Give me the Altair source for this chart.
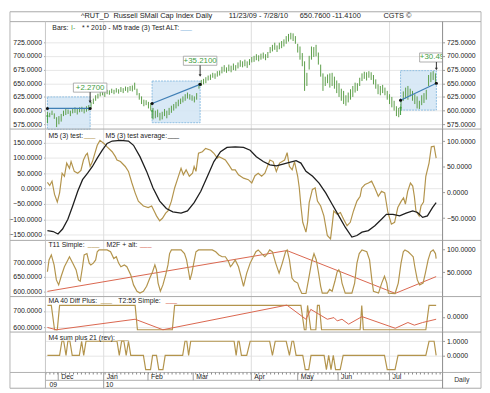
import altair as alt
import pandas as pd

# ------------------------------------------------------------------ data
# daily bars, trading-day index 0..169 (11/23/09 - 7/28/10)
bar_lo = [590, 588, 592, 585, 570, 575, 580, 590, 592, 594,
          590, 595, 596, 593, 597, 598, 595, 598, 600, 605,
          612, 618, 622, 626, 628, 625, 630, 629, 632, 630,
          633, 631, 634, 632, 636, 633, 636, 635, 638, 628,
          620, 612, 608, 610, 604, 600, 584, 586, 588, 582,
          584, 590, 586, 592, 596, 600, 604, 608, 612, 615,
          618, 622, 620, 618, 615, 620, 640, 645, 648, 650,
          655, 656, 660, 658, 662, 664, 668, 671, 669, 672,
          670, 674, 673, 677, 680, 679, 681, 678, 683, 688,
          689, 692, 690, 693, 695, 692, 696, 705, 708, 711,
          707, 712, 714, 717, 722, 726, 730, 727, 722, 706,
          693, 681, 636, 645, 675, 693, 698, 699, 684, 662,
          636, 645, 650, 642, 645, 640, 632, 625, 618, 612,
          609, 615, 620, 625, 633, 636, 645, 654, 658, 655,
          660, 656, 648, 640, 630, 628, 632, 628, 620, 612,
          606, 600, 590, 588, 600, 618, 622, 620, 626, 618,
          612, 604, 603, 610, 614, 620, 645, 652, 656, 648]
bar_hi = [598, 596, 600, 595, 588, 590, 594, 600, 603, 602,
          600, 604, 606, 603, 606, 607, 605, 608, 610, 616,
          622, 628, 631, 634, 637, 634, 638, 637, 640, 638,
          641, 639, 643, 641, 644, 643, 645, 646, 651, 640,
          632, 626, 620, 619, 616, 614, 605, 600, 602, 596,
          598, 603, 600, 605, 609, 612, 616, 620, 622, 626,
          630, 633, 630, 628, 626, 632, 650, 656, 658, 661,
          664, 666, 669, 668, 672, 673, 680, 683, 679, 684,
          682, 686, 683, 688, 692, 690, 693, 690, 694, 698,
          700, 703, 701, 704, 706, 703, 707, 716, 720, 724,
          719, 724, 727, 730, 736, 740, 742, 741, 736, 722,
          717, 705, 690, 669, 700, 717, 716, 720, 706, 684,
          668, 662, 666, 668, 669, 662, 655, 650, 640, 636,
          628, 633, 639, 645, 651, 650, 660, 668, 671, 670,
          672, 670, 665, 657, 648, 645, 647, 642, 636, 630,
          625, 618, 608, 605, 620, 635, 642, 645, 640, 636,
          630, 626, 618, 628, 632, 638, 665, 670, 672, 668]

# trade boxes
box_start = [0, 45.6, 153.8]
box_end = [18.6, 66.5, 169.4]
box_bottom = [566, 578, 601]
box_top = [625, 654, 673]
trend_from = [604, 613, 619]
trend_to = [604, 648, 650]
gain_text = ["+2.2700", "+35.2100", "+30.4900"]
gain_level = [642, 691, 697]
arrow_tip = [616, 664, 676]

# M5 (3) test
m5_idx = [0, 1.0, 2.0, 3.1, 4.3, 5.3, 6.4, 7.4, 8.4, 9.6,
          10.3, 11.7, 13.2, 14.6, 15.7, 16.7, 17.4, 18.6, 19.6, 21.7,
          22.9, 24.6, 26.0, 28.2, 29.6, 30.3, 31.8, 33.9, 35.3, 36.8,
          38.2, 39.6, 41.8, 43.9, 45.4, 46.8, 47.5, 48.9, 50.1, 51.5,
          52.5, 54.0, 55.4, 56.8, 58.2, 59.2, 60.4, 61.8, 63.2, 63.9,
          64.7, 65.8, 67.5, 68.9, 71.1, 72.5, 74.0, 74.7, 76.1, 77.5,
          79.0, 80.4, 81.8, 83.2, 85.4, 87.5, 89.0, 90.4, 91.8, 93.3,
          94.7, 96.9, 98.3, 99.7, 101.1, 103.3, 104.4, 105.4, 106.6, 107.6,
          109.0, 109.7, 110.4, 111.2, 112.6, 113.3, 114.0, 115.4, 116.6, 117.6,
          119.0, 120.4, 121.9, 123.3, 124.0, 124.7, 126.2, 127.6, 129.0, 130.5,
          131.9, 133.3, 134.8, 136.2, 136.9, 138.3, 139.8, 141.2, 142.6, 144.1,
          145.5, 146.9, 148.3, 149.8, 151.2, 152.6, 154.1, 155.1, 155.9, 156.9,
          158.1, 159.1, 159.8, 160.5, 161.9, 162.7, 163.8, 164.8, 166.2, 167.2,
          168.4, 169.3]
m5_val = [20, 10, 24, -19, -44, -14, 50, 40, 83, 66,
          88, 56, 50, 59, 93, 109, 115, 72, 88, 141,
          157, 147, 136, 120, 104, 93, 88, 72, 56, 18,
          -14, -41, -57, -62, -57, -78, -89, -105, -97, -80,
          -73, -41, 2, 34, 66, 45, 61, 40, 50, 72,
          56, 115, 120, 131, 125, 115, 99, 104, 99, 93,
          77, 61, 61, 45, 34, 29, 18, 42, 50, 40,
          50, 93, 88, 56, 83, 93, 117, 72, 61, 88,
          40, 2, -57, -110, -142, -110, -46, -3, 2, -41,
          -57, -89, -153, -164, -121, -73, -84, -78, -100, -121,
          -110, -73, -41, -25, 2, 13, 18, 24, 2, -25,
          -9, -14, -78, -116, -110, -62, -41, -30, -51, -9,
          18, 8, -25, -73, -89, -57, -44, 40, 83, 136,
          138, 99]

# M5 (3) test average
avg_idx = [0, 2.5, 4.6, 6.6, 8.9, 11.0, 13.2, 15.3, 17.5, 19.6,
           21.7, 23.9, 26.0, 28.2, 31.8, 35.3, 37.5, 40.3, 43.2, 46.0,
           48.9, 51.8, 54.6, 58.2, 61.0, 63.9, 66.8, 69.7, 72.5, 75.4,
           78.2, 81.8, 85.4, 88.3, 91.0, 94.0, 96.9, 99.7, 102.6, 105.4,
           108.3, 110.4, 112.6, 115.5, 118.3, 121.2, 124.0, 126.9, 129.7, 132.6,
           134.8, 137.0, 139.8, 142.6, 145.5, 147.6, 150.5, 153.4, 156.2, 159.1,
           161.2, 163.4, 165.5, 167.7, 169.3]
avg_val = [-137, -140, -148, -132, -100, -57, -9, 29, 50, 72,
           99, 125, 147, 155, 157, 155, 141, 104, 56, 2,
           -41, -65, -76, -80, -73, -46, -9, 40, 88, 120,
           134, 136, 134, 125, 104, 88, 77, 74, 80, 85,
           91, 83, 56, 40, 18, -14, -51, -89, -126, -158,
           -153, -142, -137, -121, -100, -84, -84, -89, -80, -73,
           -78, -94, -89, -62, -46]

# T11 Simple (0..100)
t11_idx = [0, 0.7, 1.7, 2.9, 3.9, 4.9, 6.0, 7.4, 8.9, 9.6,
           11.0, 12.5, 13.5, 14.3, 15.3, 16.0, 17.2, 18.2, 18.9, 20.0,
           21.0, 21.7, 22.5, 26.0, 27.5, 28.9, 30.0, 31.0, 32.0, 33.5,
           34.6, 36.3, 37.5, 39.0, 40.3, 41.8, 43.2, 44.6, 45.8, 46.8,
           47.5, 48.2, 49.2, 50.3, 51.5, 52.5, 53.2, 54.0, 58.2, 59.7,
           60.6, 61.5, 62.1, 62.9, 64.0, 64.7, 65.8, 71.8, 73.3, 74.7,
           76.1, 77.5, 78.9, 79.7, 80.4, 81.8, 83.2, 84.7, 85.4, 86.8,
           88.3, 89.7, 90.8, 91.8, 93.3, 94.7, 95.7, 96.8, 98.0, 99.4,
           100.9, 102.3, 103.7, 104.4, 105.4, 106.5, 107.6, 109.0, 109.7, 110.8,
           112.6, 113.7, 115.1, 116.1, 117.1, 118.0, 119.0, 119.7, 121.9, 122.9,
           124.0, 125.2, 126.2, 126.9, 127.6, 128.3, 129.7, 132.6, 133.8, 134.8,
           135.8, 137.0, 139.1, 140.3, 141.3, 142.0, 144.2, 145.6, 146.8, 147.8,
           148.5, 151.4, 152.8, 154.0, 155.0, 155.7, 157.1, 158.5, 159.3, 160.0,
           161.1, 162.1, 163.6, 164.6, 165.8, 166.9, 168.0, 169.0, 169.3]
t11_val = [51, 77, 88, 66, 33, 22, 41, 62, 77, 84,
           70, 55, 33, 30, 62, 88, 91, 70, 66, 70,
           77, 95, 99, 99, 95, 80, 84, 70, 62, 66,
           62, 44, 22, 8, 4, 8, 19, 37, 51, 66,
           55, 26, 8, 22, 44, 66, 91, 99, 99, 91,
           77, 51, 33, 48, 77, 95, 99, 99, 95, 88,
           84, 84, 73, 62, 66, 77, 62, 33, 19, 48,
           70, 84, 95, 99, 91, 84, 90, 99, 95, 70,
           48, 70, 95, 99, 77, 37, 30, 26, 15, 3,
           3, 33, 73, 91, 77, 51, 19, 4, 4, 12,
           8, 30, 51, 55, 48, 26, 4, 4, 26, 70,
           91, 99, 95, 77, 33, 8, 4, 26, 41, 26,
           4, 3, 26, 70, 95, 99, 95, 88, 84, 62,
           33, 22, 26, 48, 77, 95, 99, 91, 80]

# M2F + alt
m2f_idx = [0, 104.3, 151.5, 169.3]
m2f_val = [600, 741, 593, 651]

# MA 40 Diff Plus (two-level step)
ma40_idx = [0, 1.7, 3.1, 4.3, 5.3, 38.2, 39.2, 54.4, 55.4, 110.4,
            111.9, 112.6, 113.3, 114.7, 116.9, 117.6, 118.4, 119.4, 136.2, 136.9,
            137.6, 164.8, 166.2, 169.3]
ma40_val = [734, 734, 586, 586, 734, 734, 586, 586, 734, 734,
            586, 586, 734, 586, 586, 734, 734, 586, 586, 734,
            586, 586, 734, 734]

# T2:55 Simple
t255_idx = [0, 3.9, 38.2, 50.3, 104.3, 112.6, 114.7, 121.9, 124.8, 126.2,
            128.3, 131.2, 137.0, 151.5, 157.0, 159.8, 163.4, 169.3]
t255_val = [600, 586, 650, 586, 736, 650, 710, 650, 660, 640,
            650, 620, 666, 595, 630, 614, 630, 650]

# M4 sum plus 21 (rev)
m4_idx = [0, 5.3, 6.3, 7.1, 8.1, 8.9, 9.8, 10.8, 13.9, 14.9,
          15.8, 16.8, 30.3, 31.3, 32.3, 33.3, 34.3, 35.3, 36.3, 41.8,
          42.8, 44.9, 45.8, 47.5, 48.5, 50.3, 51.3, 58.9, 59.9, 60.7,
          61.5, 62.4, 81.3, 82.2, 83.0, 83.5, 84.5, 86.8, 88.3, 96.8,
          98.0, 99.2, 104.0, 105.4, 106.5, 107.2, 108.3, 111.2, 112.3, 113.8,
          114.8, 120.5, 121.5, 122.5, 123.5, 124.5, 125.5, 127.5, 128.8, 146.8,
          148.0, 151.4, 152.7, 164.8, 166.2, 168.4, 169.3]
m4_val = [0, 0, 1, 1, 0, 1, 1, 0, 0, 1,
          0, 1, 1, 0, 1, 1, 0, 1, 0, 0,
          -1, -1, 0, 0, -1, -1, 0, 0, 1, 1,
          0, 1, 1, 0, 1, 1, 0, 0, 1, 1,
          0, 1, 1, 0, 1, 1, 0, 0, -1, -1,
          0, 0, -1, 0, -1, 0, -1, -1, 0, 0,
          -1, -1, 0, 0, 1, 1, 0]

month_names = ["Dec", "Jan", "Feb", "Mar", "Apr", "May", "Jun", "Jul"]
month_start = [4.7, 24.5, 43.8, 63.5, 88.8, 109.0, 126.6, 149.0]
year_names = ["09", "10"]
year_start = [0, 24.5]
quarter_start = [24.5, 88.8, 149.0]

title_parts = ["^RUT_D", "Russell SMall Cap Index Daily", "11/23/09 - 7/28/10",
               "650.7600", "-11.4100", "CGTS \u00a9"]

# ------------------------------------------------------------------ style
FONT = "Liberation Sans"
W = 403
LX, RX = -36, 442
H0, H1, H2, H3, H4, H5, H6 = 10, 109, 113, 57, 36, 41, 16
GREEN = "#5b9d48"
GAIN = "#3f9d3f"
BOX_FILL = "#d2e5f4"
BOX_EDGE = "#8ebee2"
TREND = "#3f7fb5"
BROWN = "#b3944c"
BLACK = "#1e1e1e"
RED = "#d9654d"

xs = alt.Scale(domain=[-0.86, 172.1], nice=False, zero=False)
one = pd.DataFrame({"k": [0]})


def X(f):
    return alt.X(f + ":Q", scale=xs, axis=None)


def S(lo, hi):
    return alt.Scale(domain=[lo, hi], nice=False, zero=False)


def laxis(vals, grid=True):
    return alt.Axis(orient="left", values=vals, format=".4f", labelFont=FONT,
                    labelFontSize=7, labelColor="#222", tickSize=2, tickColor="#aaa",
                    labelPadding=2, domain=False, grid=grid, gridColor="#e7e7e7",
                    minExtent=36, maxExtent=36, title=None)


def raxis(vals, grid=False):
    return alt.Axis(orient="right", values=vals, format=".4f", labelFont=FONT,
                    labelFontSize=7, labelColor="#222", tickSize=2, tickColor="#999",
                    labelPadding=2, domain=False, grid=grid, gridColor="#e7e7e7",
                    minExtent=39, maxExtent=39, title=None)


def hrule(y, x1, x2, color, dash=None, width=1):
    kw = dict(color=color, strokeWidth=width)
    if dash:
        kw["strokeDash"] = dash
    return alt.Chart(one).mark_rule(**kw).encode(x=alt.value(x1), x2=alt.value(x2), y=alt.value(y))


def vrule(x, y1, y2, color, width=1):
    return alt.Chart(one).mark_rule(color=color, strokeWidth=width).encode(
        x=alt.value(x), y=alt.value(y1), y2=alt.value(y2))


def txt(s, x, y, color="#222", size=7, align="left"):
    return alt.Chart(one).mark_text(text=s, align=align, baseline="middle", font=FONT,
                                    fontSize=size, color=color).encode(x=alt.value(x), y=alt.value(y))


def frame(h, plot=True):
    layers = [hrule(0, LX, RX, "#a9a9a9"), vrule(LX, 0, h, "#b3b3b3"), vrule(RX, 0, h, "#b3b3b3")]
    if plot:
        layers += [vrule(0, 0, h, "#c6c6c6"), vrule(W, 0, h, "#8a8a8a")]
    return layers


def qgrid(h):
    return alt.Chart(pd.DataFrame({"i": quarter_start})).mark_rule(color="#dddddd").encode(
        x=X("i"), y=alt.value(0), y2=alt.value(h))


def series(idx, val, color, width, scale, axis):
    df = pd.DataFrame({"i": idx, "v": val})
    return alt.Chart(df).mark_line(color=color, strokeWidth=width).encode(
        x=X("i"), y=alt.Y("v:Q", scale=scale, axis=axis))


def axis_only(vals, scale, axis):
    return alt.Chart(pd.DataFrame({"v": vals})).mark_point(opacity=0).encode(
        y=alt.Y("v:Q", scale=scale, axis=axis))


def panel(layers, h):
    return alt.layer(*layers).resolve_scale(y="independent").properties(width=W, height=h)


# ------------------------------------------------------------------ title strip
title_x = [36, 69, 186, 258, 291, 343]
p0 = alt.layer(
    hrule(0, LX, RX, "#a9a9a9"), vrule(LX, 0, H0, "#b3b3b3"), vrule(RX, 0, H0, "#b3b3b3"),
    *[txt(t, x, 4, "#222", 7.5) for t, x in zip(title_parts, title_x)]
).properties(width=W, height=H0)

# ------------------------------------------------------------------ price panel
price_df = pd.DataFrame({"i": list(range(len(bar_lo))), "lo": bar_lo, "hi": bar_hi})
box_df = pd.DataFrame({"s": box_start, "e": box_end, "b": box_bottom, "t": box_top,
                       "f": trend_from, "to": trend_to, "g": gain_text,
                       "gl": gain_level, "tip": arrow_tip})
sy1 = S(566.4, 762.4)
pticks = [575, 600, 625, 650, 675, 700, 725]

boxes = alt.Chart(box_df).mark_rect(fill=BOX_FILL, fillOpacity=0.85, stroke=BOX_EDGE,
                                    strokeWidth=1, strokeDash=[2, 1]).encode(
    x=X("s"), x2="e", y=alt.Y("b:Q", scale=sy1, axis=laxis(pticks)), y2="t")
bars = alt.Chart(price_df).mark_rule(color=GREEN, strokeWidth=1).encode(
    x=X("i"), y=alt.Y("lo:Q", scale=sy1, axis=None), y2="hi")
trend = alt.Chart(box_df).mark_rule(color=TREND, strokeWidth=1.2).encode(
    x=X("s"), x2="e", y=alt.Y("f:Q", scale=sy1, axis=None), y2="to")
entry = alt.Chart(box_df).mark_rule(color=GAIN, strokeWidth=1, yOffset=7, y2Offset=15).encode(
    x=X("s"), y=alt.Y("f:Q", scale=sy1, axis=None), y2="f")
entry_head = alt.Chart(box_df).mark_point(shape="triangle-up", filled=True, size=8, color=GAIN,
                                          opacity=1, yOffset=7).encode(
    x=X("s"), y=alt.Y("f:Q", scale=sy1, axis=None))
dot_a = alt.Chart(box_df).mark_point(filled=True, size=10, color="#111", opacity=1).encode(
    x=X("s"), y=alt.Y("f:Q", scale=sy1, axis=None))
dot_b = alt.Chart(box_df).mark_point(filled=True, size=10, color="#111", opacity=1).encode(
    x=X("e"), y=alt.Y("to:Q", scale=sy1, axis=None))
tag_box = alt.Chart(box_df).mark_rect(fill="white", stroke="#9c9c9c", strokeWidth=0.8,
                                      xOffset=-17, x2Offset=17, yOffset=-4.6, y2Offset=4.6,
                                      clip=True).encode(
    x=X("e"), x2="e", y=alt.Y("gl:Q", scale=sy1, axis=None), y2="gl")
tag_txt = alt.Chart(box_df).mark_text(color=GAIN, font=FONT, fontSize=8, align="center",
                                      baseline="middle", clip=True).encode(
    x=X("e"), y=alt.Y("gl:Q", scale=sy1, axis=None), text="g:N")
arrow = alt.Chart(box_df).mark_rule(color="#333", yOffset=4.6).encode(
    x=X("e"), y=alt.Y("gl:Q", scale=sy1, axis=None), y2="tip")
head = alt.Chart(box_df).mark_point(shape="triangle-down", filled=True, size=9,
                                    color="#333", opacity=1).encode(
    x=X("e"), y=alt.Y("tip:Q", scale=sy1, axis=None))

p1 = panel([qgrid(H1), boxes, bars, trend, entry, entry_head, dot_a, dot_b,
            tag_box, tag_txt, arrow, head,
            axis_only(pticks, sy1, raxis(pticks)), *frame(H1),
            txt("Bars:", 7, 6), txt("I-", 26, 6, GREEN),
            txt("* * 2010 - M5 trade (3) Test ALT:", 37, 6), txt("___", 137, 5, "#7fb2dd")], H1)

# ------------------------------------------------------------------ M5 oscillator
sy2 = S(-169, 194)
p2 = panel([qgrid(H2),
            series(m5_idx, m5_val, BROWN, 1.2, sy2, laxis([-150, -100, -50, 0, 50, 100, 150])),
            series(avg_idx, avg_val, BLACK, 1.3, sy2, None),
            axis_only([-50, 0, 50, 100], S(-93.6, 123.7), raxis([-50, 0, 50, 100])),
            *frame(H2),
            txt("M5 (3) test:", 3, 7), txt("___", 39, 6, BROWN),
            txt("M5 (3) test average:", 61, 7), txt("___", 124, 6, BLACK)], H2)

# ------------------------------------------------------------------ T11 panel
p3 = panel([qgrid(H3),
            series(m2f_idx, m2f_val, RED, 1, S(582, 776), laxis([600, 650, 700])),
            series(t11_idx, t11_val, BROWN, 1.2, S(-3.7, 120), raxis([50, 100])),
            *frame(H3),
            txt("T11 Simple:", 3, 5), txt("___", 43, 4, BROWN),
            txt("M2F + alt:", 62, 5), txt("___", 96, 4, RED)], H3)

# ------------------------------------------------------------------ MA 40 panel
sy4 = S(572, 788)
p4 = panel([qgrid(H4),
            series(ma40_idx, ma40_val, BROWN, 1.2, sy4, laxis([600, 700])),
            series(t255_idx, t255_val, RED, 1, sy4, None),
            axis_only([0], S(-15.7, 21.3), raxis([0])),
            *frame(H4),
            txt("MA 40 Diff Plus:", 3, 4.5), txt("___", 56, 3.5, BROWN),
            txt("T2:55 Simple:", 74, 4.5), txt("___", 122, 3.5, RED)], H4)

# ------------------------------------------------------------------ M4 panel
p5 = panel([qgrid(H5),
            series(m4_idx, m4_val, BROWN, 1.2, S(-1.2, 1.65), raxis([0, 1], grid=True)),
            *frame(H5),
            txt("M4 sum plus 21 (rev):", 3, 6), txt("___", 73, 5, BROWN)], H5)

# ------------------------------------------------------------------ date row
mdf = pd.DataFrame({"i": month_start, "m": month_names})
ydf = pd.DataFrame({"i": year_start, "y": year_names})
p6 = panel([
    hrule(0, LX, RX, "#b0b0b0"),
    hrule(1, 0, W, "#888", dash=[1, 3], width=2),
    hrule(8, 0, W, "#b0b0b0"),
    hrule(H6, LX, RX, "#a9a9a9"),
    vrule(LX, 0, H6, "#b3b3b3"), vrule(RX, 0, H6, "#b3b3b3"),
    vrule(0, 0, H6, "#b0b0b0"), vrule(W, 0, H6, "#8a8a8a"),
    alt.Chart(mdf).mark_rule(color="#9a9a9a").encode(x=X("i"), y=alt.value(0), y2=alt.value(8)),
    alt.Chart(ydf).transform_filter(alt.datum.i > 0).mark_rule(color="#9a9a9a").encode(
        x=X("i"), y=alt.value(8), y2=alt.value(H6)),
    alt.Chart(mdf).mark_text(align="left", baseline="middle", dx=3, font=FONT, fontSize=7,
                             color="#222").encode(x=X("i"), y=alt.value(4.4), text="m:N"),
    alt.Chart(ydf).mark_text(align="left", baseline="middle", dx=2, font=FONT, fontSize=7,
                             color="#222").encode(x=X("i"), y=alt.value(12.3), text="y:N"),
    txt("Daily", W + 19.5, 8, "#333", 7, "center"),
], H6)

chart = alt.vconcat(p0, p1, p2, p3, p4, p5, p6, spacing=0, bounds="flush").properties(
    padding=0).configure_view(strokeWidth=0)

chart.save("out.html", embed_options={"renderer": "svg", "actions": False})
